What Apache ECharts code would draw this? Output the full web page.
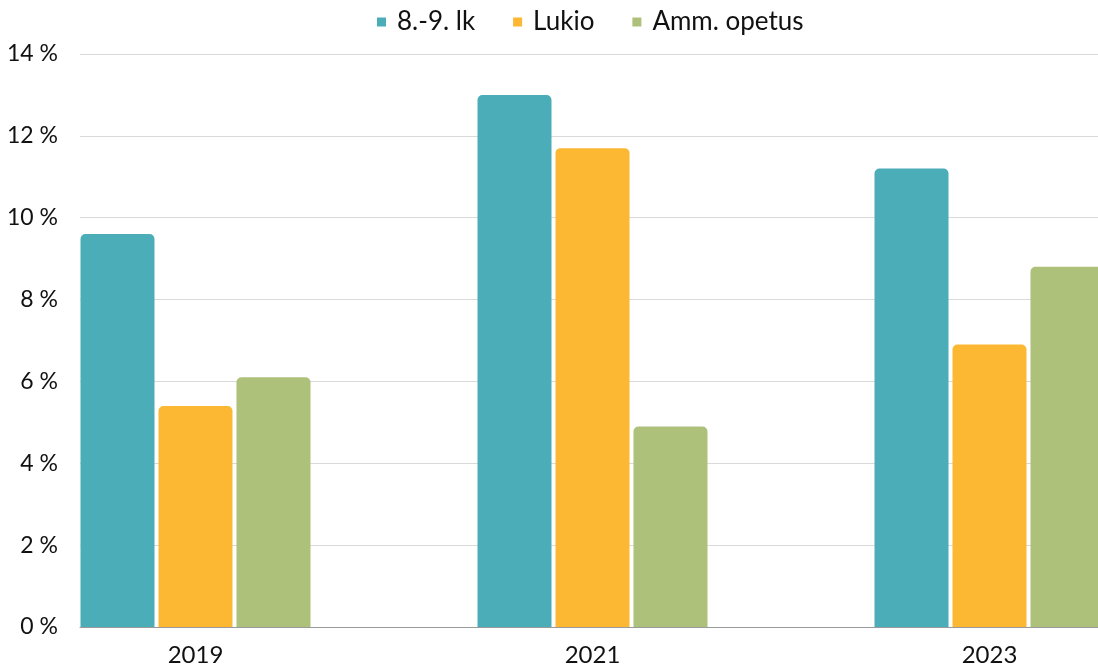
<!DOCTYPE html>
<html>
<head>
<meta charset="utf-8">
<script src="https://cdn.jsdelivr.net/npm/echarts@6/dist/echarts.min.js"></script>
<style>html,body{margin:0;padding:0;background:#fff}#c{width:1098px;height:672px}</style>
</head>
<body>
<div id="c"></div>
<script>
const categories = ['2019', '2021', '2023'];
const seriesNames = ['8.-9. lk', 'Lukio', 'Amm. opetus'];
const lk89 = [9.6, 13.0, 11.2];
const lukio = [5.4, 11.7, 6.9];
const amm = [6.1, 4.9, 8.8];
const yTicks = [0, 2, 4, 6, 8, 10, 12, 14];
const colors = ['#4BADB7', '#FDB833', '#ADC17A'];

const FONT = 'Lato';
const chart = echarts.init(document.getElementById('c'));
const values = [lk89, lukio, amm];
chart.setOption({
  animation: false,
  textStyle: { fontFamily: FONT },
  legend: {
    data: seriesNames,
    left: 372, top: 4,
    icon: 'rect', itemWidth: 9, itemHeight: 9, itemGap: 38,
    textStyle: { fontSize: 26, color: '#111', fontFamily: FONT, padding: [0, 0, 0, 6] }
  },
  grid: [
    { left: -3, width: 1191, top: 54, bottom: 45, outerBoundsMode: 'none', containLabel: false },
    { left: 80, right: 0, top: 54, bottom: 45, outerBoundsMode: 'none', containLabel: false }
  ],
  xAxis: [
    { type: 'category', gridIndex: 0, data: categories,
      axisLine: { show: false }, axisTick: { show: false },
      axisLabel: { fontSize: 24, color: '#111', margin: 16, fontFamily: FONT } },
    { type: 'value', gridIndex: 1, min: 0, max: 1, show: true,
      axisLine: { show: true, lineStyle: { color: '#9a9a9a', width: 1 } },
      axisTick: { show: false }, axisLabel: { show: false }, splitLine: { show: false } }
  ],
  yAxis: [
    { type: 'value', gridIndex: 0, min: 0, max: 14, interval: 2, show: false, splitLine: { show: false } },
    { type: 'value', gridIndex: 1, min: yTicks[0], max: yTicks[yTicks.length - 1], interval: 2,
      axisLine: { show: false }, axisTick: { show: false },
      axisLabel: { fontSize: 23, color: '#111', margin: 22, fontFamily: FONT, formatter: v => v + ' %' },
      splitLine: { show: true, lineStyle: { color: '#d9d9d9', width: 1 } } }
  ],
  series: seriesNames.map((n, i) => ({
    name: n, type: 'bar', xAxisIndex: 0, yAxisIndex: 0,
    data: values[i], barWidth: 74, barGap: '5.4%',
    itemStyle: { color: colors[i], borderRadius: [5, 5, 0, 0] },
    z: 3
  }))
});
</script>
</body>
</html>
